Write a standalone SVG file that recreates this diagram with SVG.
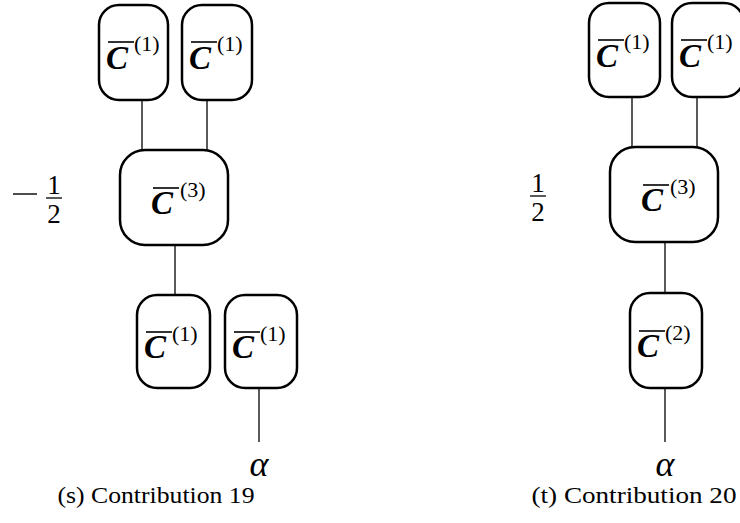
<svg xmlns="http://www.w3.org/2000/svg" width="740" height="523" viewBox="0 0 740 523" font-family="'Liberation Serif', 'Times New Roman', 'DejaVu Serif', serif">
<style>
.box{fill:#fff;stroke:#000;stroke-width:2.5}
.wire{stroke:#000;stroke-width:1.3;fill:none}
.ovl{stroke:#000;stroke-width:1.6}
text{font-family:'Liberation Serif','Times New Roman','DejaVu Serif',serif}
.c{font-weight:bold;font-style:italic;font-size:33px}
.sup{font-size:22px}
.num{font-size:27px;text-anchor:middle}
.alpha{font-style:italic;font-size:36px;text-anchor:middle}
.cap{font-size:23px;text-anchor:middle}
</style>
<rect width="740" height="523" fill="#fff"/>
<g id="connectors">
<line class="wire" x1="142" y1="100" x2="142" y2="150"/>
<line class="wire" x1="207" y1="100" x2="207" y2="150"/>
<line class="wire" x1="175" y1="245" x2="175" y2="295"/>
<line class="wire" x1="259" y1="388" x2="259" y2="442"/>
<line class="wire" x1="632" y1="97" x2="632" y2="147"/>
<line class="wire" x1="697" y1="97" x2="697" y2="147"/>
<line class="wire" x1="665" y1="242" x2="665" y2="293"/>
<line class="wire" x1="665" y1="388" x2="665" y2="442"/>
</g>
<g id="s_n1">
<rect class="box" x="99" y="5" width="69" height="95" rx="20"/>
<line class="ovl" x1="108" y1="42" x2="134" y2="42"/>
<text class="c" x="106" y="69">C</text><text class="sup" x="134" y="51">(1)</text>
</g>
<g id="s_n2">
<rect class="box" x="182" y="5" width="70" height="95" rx="20"/>
<line class="ovl" x1="191" y1="42" x2="217" y2="42"/>
<text class="c" x="189" y="69">C</text><text class="sup" x="217" y="51">(1)</text>
</g>
<g id="s_n3">
<rect class="box" x="120" y="150" width="108" height="95" rx="25"/>
<line class="ovl" x1="153" y1="188" x2="179" y2="188"/>
<text class="c" x="151" y="214">C</text><text class="sup" x="180" y="197">(3)</text>
</g>
<g id="s_n4">
<rect class="box" x="137" y="295" width="73" height="93" rx="20"/>
<line class="ovl" x1="146" y1="332" x2="172" y2="332"/>
<text class="c" x="144" y="358">C</text><text class="sup" x="172" y="341">(1)</text>
</g>
<g id="s_n5">
<rect class="box" x="225" y="295" width="72" height="93" rx="20"/>
<line class="ovl" x1="234" y1="332" x2="260" y2="332"/>
<text class="c" x="232" y="358">C</text><text class="sup" x="260" y="341">(1)</text>
</g>
<g id="s_coef">
<line x1="13" y1="194" x2="37" y2="194" stroke="#000" stroke-width="1.4"/>
<text class="num" x="54" y="194">1</text>
<line x1="46" y1="198" x2="62" y2="198" stroke="#000" stroke-width="1.3"/>
<text class="num" x="54" y="223">2</text>
</g>
<g id="s_alpha"><text class="alpha" x="259" y="476">α</text></g>
<g id="s_caption"><text class="cap" x="156" y="503" textLength="197" lengthAdjust="spacingAndGlyphs">(s) Contribution 19</text></g>

<g id="t_n1">
<rect class="box" x="589" y="3" width="71" height="94" rx="20"/>
<line class="ovl" x1="598" y1="40" x2="624" y2="40"/>
<text class="c" x="596" y="67">C</text><text class="sup" x="624" y="49">(1)</text>
</g>
<g id="t_n2">
<rect class="box" x="672" y="3" width="72" height="94" rx="20"/>
<line class="ovl" x1="681" y1="40" x2="707" y2="40"/>
<text class="c" x="679" y="67">C</text><text class="sup" x="707" y="49">(1)</text>
</g>
<g id="t_n3">
<rect class="box" x="610" y="147" width="108" height="95" rx="25"/>
<line class="ovl" x1="643" y1="185" x2="669" y2="185"/>
<text class="c" x="641" y="211">C</text><text class="sup" x="670" y="194">(3)</text>
</g>
<g id="t_n4">
<rect class="box" x="630" y="293" width="72" height="95" rx="20"/>
<line class="ovl" x1="639" y1="331" x2="665" y2="331"/>
<text class="c" x="637" y="357">C</text><text class="sup" x="665" y="340">(2)</text>
</g>
<g id="t_coef">
<text class="num" x="538" y="192">1</text>
<line x1="530" y1="196" x2="546" y2="196" stroke="#000" stroke-width="1.3"/>
<text class="num" x="538" y="221">2</text>
</g>
<g id="t_alpha"><text class="alpha" x="665" y="476">α</text></g>
<g id="t_caption"><text class="cap" x="634" y="503" textLength="205" lengthAdjust="spacingAndGlyphs">(t) Contribution 20</text></g>
</svg>
